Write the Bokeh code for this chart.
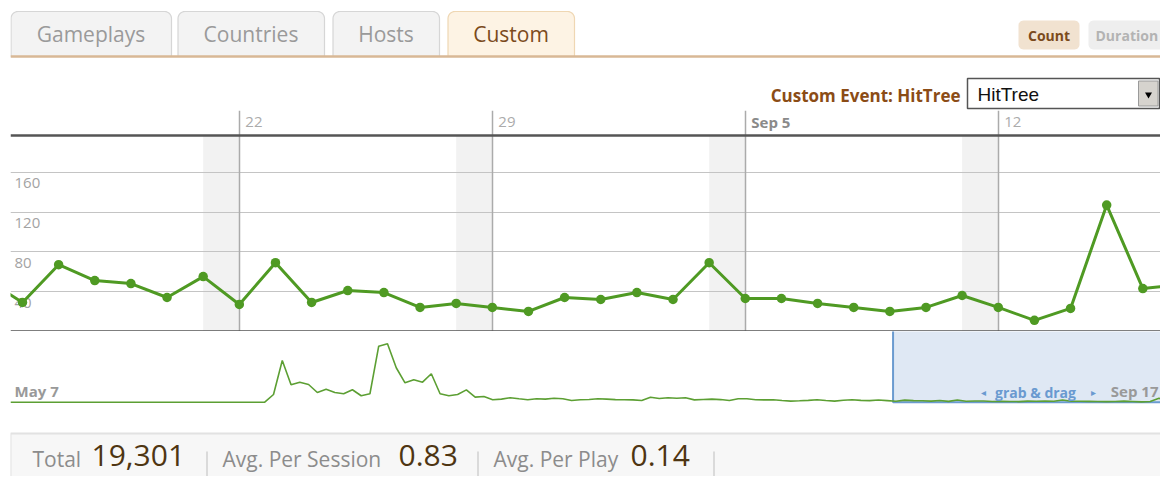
import numpy as np
import pandas as pd
from bokeh.plotting import figure
from bokeh.layouts import column
from bokeh.models import Range1d, ColumnDataSource
from bokeh.core.properties import value
from bokeh.embed import file_html
from bokeh.resources import INLINE

# ---------------- data ----------------
TABS = ["Gameplays", "Countries", "Hosts", "Custom"]
ACTIVE_TAB = "Custom"
MODES = ["Count", "Duration"]
EVENT_NAME = "HitTree"

# daily counts of the custom event shown in the main (zoomed) chart, Aug 15 - Sep 17 2010
main_start = "2010-08-15"
main_counts = [52, 29, 67, 51, 48, 34, 55, 27, 69, 29, 41, 39, 24, 28, 24, 20, 34,
               32, 39, 32, 69, 33, 33, 28, 24, 20, 24, 36, 24, 11, 23, 127, 43, 47]

y_ticks = [40, 80, 120, 160]
week_ticks = ["2010-08-22", "2010-08-29", "2010-09-05", "2010-09-12"]
week_labels = ["22", "29", "Sep 5", "12"]
week_styles = ["normal", "normal", "bold", "normal"]

# overview (whole period) May 7 - Aug 14, then the same counts as above
overview_start = "2010-05-07"
overview_early = [0, 0, 0, 0, 0, 0, 0, 0, 0, 0, 0, 0, 0, 0, 0, 0, 0, 0, 0, 0,
                  0, 0, 0, 0, 0, 0, 0, 0, 0, 0,
                  250, 1355, 565, 650, 575, 315, 420, 315, 275, 405,
                  210, 275, 1820, 1900, 1120, 630, 730, 650, 925, 275,
                  210, 250, 400, 165, 185, 80, 100, 145, 110, 80,
                  110, 100, 130, 110, 55, 80, 90, 110, 100, 85,
                  80, 75, 55, 160, 120, 145, 130, 145, 75, 90,
                  100, 85, 55, 110, 110, 80, 75, 80, 55, 35,
                  45, 60, 80, 55, 35, 65, 80, 60, 50, 70]
overview_counts = overview_early + main_counts
overview_start_label = "May 7"
overview_end_label = "Sep 17"

stat_labels = ["Total", "Avg. Per Session", "Avg. Per Play"]
stat_values = ["19,301", "0.83", "0.14"]

# ---------------- derived ----------------
main_dates = pd.date_range(main_start, periods=len(main_counts), freq="D")
overview_dates = pd.date_range(overview_start, periods=len(overview_counts), freq="D")
week_dt = pd.to_datetime(week_ticks)
sat_dt = week_dt - pd.Timedelta(days=1)

W = 1160
LEFT = 10
FRAME_W = W - LEFT

# visible windows
view_start = pd.Timestamp("2010-08-15 16:02")
view_end = view_start + pd.Timedelta(days=FRAME_W / 36.14)
ov_start = pd.Timestamp(overview_start)
ov_end = ov_start + pd.Timedelta(days=FRAME_W / 8.767)

FONT = value("Open Sans")
GREEN = "#4f9a23"
DARK = "#555555"


def make_fig(height, x_range, y_range):
    p = figure(width=W, height=height, x_range=x_range, y_range=y_range,
               x_axis_location=None, y_axis_location=None, toolbar_location=None,
               output_backend="svg", min_border_left=LEFT, min_border_right=0,
               min_border_top=0, min_border_bottom=0)
    p.outline_line_color = None
    p.background_fill_color = "white"
    p.border_fill_color = "white"
    p.grid.visible = False
    return p


def rounded(x0, x1, top, bottom, r, bottom_round=True):
    t1 = np.linspace(np.pi, 1.5 * np.pi, 8)
    t2 = np.linspace(1.5 * np.pi, 2 * np.pi, 8)
    xs = list(x0 + r + r * np.cos(t1)) + list(x1 - r + r * np.cos(t2))
    ys = list(top + r + r * np.sin(t1)) + list(top + r + r * np.sin(t2))
    if bottom_round:
        t3 = np.linspace(0, 0.5 * np.pi, 8)
        t4 = np.linspace(0.5 * np.pi, np.pi, 8)
        xs += list(x1 - r + r * np.cos(t3)) + list(x0 + r + r * np.cos(t4))
        ys += list(bottom - r + r * np.sin(t3)) + list(bottom - r + r * np.sin(t4))
    else:
        xs += [x1, x0]
        ys += [bottom, bottom]
    return xs, ys


# ---------------- header (tabs, buttons, selector) ----------------
hdr = make_fig(110, Range1d(LEFT, W), Range1d(110, 0))

tab_left = [10, 177, 332, 447]
tab_right = [171, 324, 439, 574]
txs, tys, fills, lines, tcols = [], [], [], [], []
for name, l, r in zip(TABS, tab_left, tab_right):
    xs, ys = rounded(l + 0.5, r, 11, 56, 7, bottom_round=False)
    txs.append(xs)
    tys.append(ys)
    active = name == ACTIVE_TAB
    fills.append("#fdf3e4" if active else "#f3f3f3")
    lines.append("#efd7b3" if active else "#d6d6d6")
    tcols.append("#7b4a1c" if active else "#9a9a9a")
hdr.patches(txs, tys, fill_color=fills, line_color=lines, line_width=1.2)
hdr.text(x=[(l + r) / 2 for l, r in zip(tab_left, tab_right)], y=[33] * len(TABS), text=TABS,
         text_color=tcols, text_font=FONT, text_font_size="21px",
         text_align="center", text_baseline="middle")
hdr.segment(x0=[LEFT], y0=[56], x1=[W], y1=[56], line_color="#d8b896", line_width=2.5)

# Count / Duration buttons
bx, by = rounded(1018, 1079, 20, 49, 5)
hdr.patch(bx, by, fill_color="#f1e2d0", line_color=None)
bx2, by2 = rounded(1088, 1190, 20, 49, 5)
hdr.patch(bx2, by2, fill_color="#eeeeee", line_color=None)
hdr.text(x=[1048.5], y=[35], text=[MODES[0]], text_color="#7b4a1c", text_font=FONT,
         text_font_size="14px", text_font_style="bold", text_align="center", text_baseline="middle")
hdr.text(x=[1095], y=[35], text=[MODES[1]], text_color="#b3b3b3", text_font=FONT,
         text_font_size="14px", text_font_style="bold", text_align="left", text_baseline="middle")

# custom event selector
hdr.text(x=[960], y=[95], text=["Custom Event: " + EVENT_NAME], text_color="#8b4c16",
         text_font=FONT, text_font_size="17px", text_font_style="bold",
         text_align="right", text_baseline="middle")
hdr.quad(left=[967], right=[1159], top=[78], bottom=[108], fill_color="white",
         line_color="#555555", line_width=1.5)
hdr.quad(left=[1138], right=[1157.5], top=[80.5], bottom=[105.5], fill_color="#d6d3ce",
         line_color="#9a9a9a", line_width=1)
hdr.scatter(x=[1148], y=[94], marker="inverted_triangle", size=7, fill_color="black", line_color=None)
hdr.text(x=[977], y=[94], text=[EVENT_NAME], text_color="#111111", text_font=value("Liberation Sans"),
         text_font_size="19px", text_align="left", text_baseline="middle")

# ---------------- main chart ----------------
mf = make_fig(221, Range1d(view_start.to_pydatetime(), view_end.to_pydatetime()), Range1d(-0.2, 222.1))
TOP_VAL = 197
LABEL_VAL = 211
mf.quad(left=sat_dt, right=week_dt, bottom=0, top=TOP_VAL, fill_color="#f2f2f2", line_color=None)
mf.hspan(y=y_ticks, line_color="#c4c4c4", line_width=1.2)
mf.vspan(x=week_dt, line_color="#ababab", line_width=1.5)
mf.hspan(y=[TOP_VAL, 0], line_color=DARK, line_width=2.5)
mf.text(x=[view_start] * len(y_ticks), y=y_ticks, text=[str(v) for v in y_ticks],
        x_offset=4, y_offset=6, text_baseline="top", text_align="left",
        text_color="#a3a3a3", text_font=FONT, text_font_size="15px")
wk_src = ColumnDataSource(dict(x=week_dt, y=[LABEL_VAL] * len(week_ticks), t=week_labels,
                               s=week_styles,
                               c=["#8a8a8a" if s == "bold" else "#ababab" for s in week_styles]))
mf.text(x="x", y="y", text="t", source=wk_src, x_offset=6, text_font_style="s", text_color="c",
        text_baseline="middle", text_align="left", text_font=FONT, text_font_size="15px")
mf.line(main_dates, main_counts, line_color=GREEN, line_width=3)
mf.scatter(main_dates, main_counts, size=9.5, fill_color=GREEN, line_color=None)

# ---------------- overview ----------------
ov = make_fig(79, Range1d(ov_start.to_pydatetime(), ov_end.to_pydatetime()), Range1d(-270, 2298))
ov.quad(left=[view_start], right=[ov_end + pd.Timedelta(days=5)], bottom=[0], top=[5000],
        fill_color="#dfe8f4", line_color="#6b9bd0", line_width=2)
ov.line(overview_dates, overview_counts, line_color="#5c9f33", line_width=1.6)
ov.text(x=[ov_start], y=[370], text=[overview_start_label], x_offset=4, text_baseline="middle",
        text_align="left", text_color="#999999", text_font=FONT, text_font_size="15px",
        text_font_style="bold")
ov.text(x=[ov_end], y=[370], text=[overview_end_label], x_offset=-2, text_baseline="middle",
        text_align="right", text_color="#999999", text_font=FONT, text_font_size="15px",
        text_font_style="bold")
ov.text(x=[ov_end], y=[300], text=["grab & drag"], x_offset=-125, text_baseline="middle",
        text_align="center", text_color="#6a9ad0", text_font=FONT, text_font_size="14px",
        text_font_style="bold")
ov.text(x=[ov_end, ov_end], y=[310, 310], text=["◂", "▸"], x_offset=[-177, -67], text_baseline="middle",
        text_align="center", text_color="#6a9ad0", text_font=value("DejaVu Sans"), text_font_size="10px")

# ---------------- stats bar ----------------
sf = make_fig(66, Range1d(LEFT, W), Range1d(476, 410))
sf.quad(left=[10], right=[1200], top=[433], bottom=[520], fill_color="#f7f7f7",
        line_color="#e2e2e2", line_width=2)
label_x = [32, 222, 493]
value_x = [91, 398, 630]
sep_x = [206.5, 477.5, 713.5]
sf.text(x=label_x, y=[458.5] * 3, text=stat_labels, text_color="#8c8c8c", text_font=FONT,
        text_font_size="21px", text_baseline="middle", text_align="left")
sf.text(x=value_x, y=[455] * 3, text=stat_values, text_color="#4e3512", text_font=FONT,
        text_font_size="30px", text_baseline="middle", text_align="left")
sf.segment(x0=sep_x, y0=[451] * 3, x1=sep_x, y1=[480] * 3, line_color="#c6c6c6", line_width=1.2)

layout = column(hdr, mf, ov, sf, spacing=0)
open("out.html", "w").write(file_html(layout, INLINE))
